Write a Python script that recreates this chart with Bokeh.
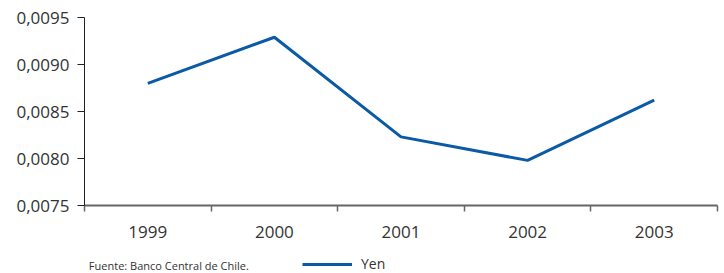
from bokeh.plotting import figure
from bokeh.models import FixedTicker, Legend, LegendItem, Label, Range1d
from bokeh.layouts import column
from bokeh.embed import file_html
from bokeh.resources import INLINE

years = ["1999", "2000", "2001", "2002", "2003"]
yen = [0.00880, 0.00929, 0.00823, 0.00798, 0.00862]
y_ticks = [0.0075, 0.0080, 0.0085, 0.0090, 0.0095]
y_tick_labels = ["0,0075", "0,0080", "0,0085", "0,0090", "0,0095"]
series_name = "Yen"
source_note = "Fuente: Banco Central de Chile."

FONT = "Open Sans"
TXT = "#333333"
LINE = "#0a5aa5"

xs = [i + 0.5 for i in range(len(years))]

# ---- main chart ----
p = figure(width=724, height=249, output_backend="svg", toolbar_location=None,
           x_range=Range1d(0, len(years)), y_range=Range1d(y_ticks[0], y_ticks[-1]),
           min_border_left=84, min_border_right=7, min_border_top=17, min_border_bottom=44)
p.outline_line_color = None
p.grid.grid_line_color = None

r = p.line(xs, yen, line_color=LINE, line_width=3)

xa = p.xaxis[0]
xa.axis_label = None
xa.axis_label_standoff = 0
xa.ticker = FixedTicker(ticks=xs, minor_ticks=list(range(len(years) + 1)))
xa.major_label_overrides = {x: y for x, y in zip(xs, years)}
xa.major_tick_out = 0
xa.major_tick_in = 0
xa.minor_tick_out = 6
xa.minor_tick_in = 0
xa.minor_tick_line_color = "#666666"
xa.minor_tick_line_width = 1.5
xa.axis_line_color = "#666666"
xa.axis_line_width = 2
xa.major_label_text_font = FONT
xa.major_label_text_font_size = "17px"
xa.major_label_text_color = TXT
xa.major_label_standoff = 14

ya = p.yaxis[0]
ya.axis_label = None
ya.axis_label_standoff = 0
ya.ticker = FixedTicker(ticks=y_ticks, minor_ticks=[])
ya.major_label_overrides = {t: l for t, l in zip(y_ticks, y_tick_labels)}
ya.major_tick_out = 7
ya.major_tick_in = 0
ya.major_tick_line_color = "#222222"
ya.axis_line_color = "#222222"
ya.major_label_text_font = FONT
ya.major_label_text_font_size = "17px"
ya.major_label_text_color = TXT
ya.major_label_standoff = 8

# ---- legend / source strip ----
p2 = figure(width=724, height=24, output_backend="svg", toolbar_location=None,
            x_axis_type=None, y_axis_type=None,
            x_range=Range1d(0, 724), y_range=Range1d(0, 24),
            min_border_left=0, min_border_right=0, min_border_top=0, min_border_bottom=0)
p2.outline_line_color = None
p2.grid.grid_line_color = None
p2.extra_y_ranges = {"hidden": Range1d(1, 2)}
r2 = p2.line(xs, yen, line_color=LINE, line_width=3, y_range_name="hidden")

legend = Legend(items=[LegendItem(label=series_name, renderers=[r2])],
                location=(218, 0), orientation="horizontal",
                glyph_width=50, glyph_height=14, label_height=14,
                label_standoff=9, padding=0, margin=0, spacing=0,
                background_fill_alpha=0, border_line_alpha=0,
                label_text_font=FONT, label_text_font_size="14px",
                label_text_color=TXT)
p2.add_layout(legend, "center")

note = Label(x=5, y=1, text=source_note, text_font=FONT, text_font_size="11px",
             text_color=TXT, text_baseline="bottom")
p2.add_layout(note)

layout = column(p, p2, spacing=0)
open("out.html", "w").write(file_html(layout, INLINE))
